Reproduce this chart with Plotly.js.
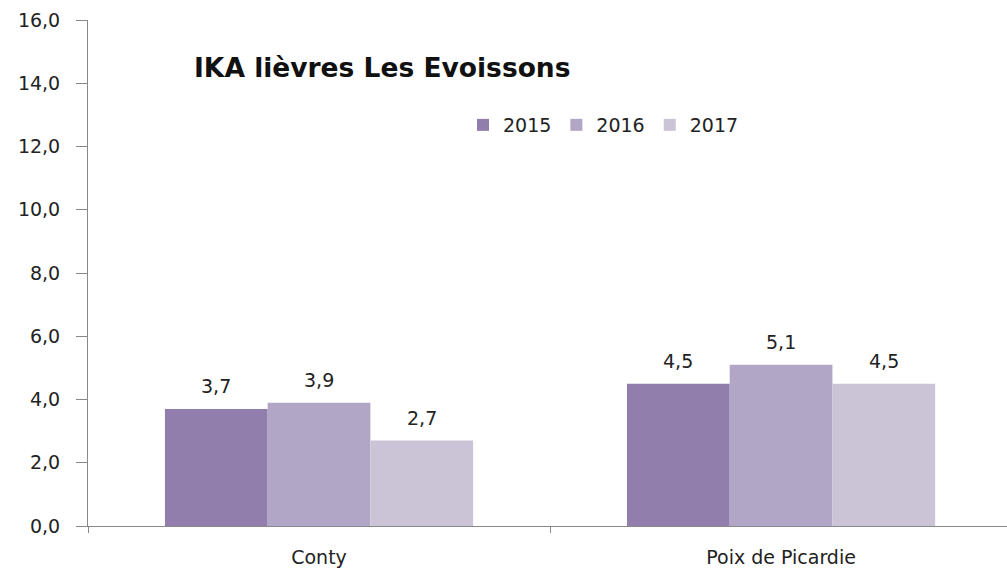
<!DOCTYPE html>
<html>
<head>
<meta charset="utf-8">
<script src="https://cdn.plot.ly/plotly-3.0.1.min.js"></script>
<style>html,body{margin:0;padding:0;background:#fff;}#chart{width:1007px;height:569px;}</style>
</head>
<body>
<div id="chart"></div>
<script>
const categories = ["Conty", "Poix de Picardie"];
const seriesNames = ["2015", "2016", "2017"];
const values2015 = [3.7, 4.5];
const values2016 = [3.9, 5.1];
const values2017 = [2.7, 4.5];
const colors = ["#917EAC", "#B1A6C5", "#CBC4D7"];
const allValues = [values2015, values2016, values2017];

const font = "DejaVu Sans, Verdana, sans-serif";
const bargap = 0.333;
const barW = (1 - bargap) / allValues.length;

const traces = allValues.map((v, i) => ({
  type: "bar",
  name: seriesNames[i],
  x: categories,
  y: v,
  marker: {color: colors[i]},
  hoverinfo: "skip"
}));

// value labels above bars, positioned from the data through the axes
const annotations = [];
allValues.forEach((v, i) => {
  v.forEach((val, j) => {
    annotations.push({
      x: j + (i - (allValues.length - 1) / 2) * barW,
      y: val,
      xref: "x", yref: "y",
      text: val.toFixed(1).replace(".", ","),
      showarrow: false,
      xanchor: "center", yanchor: "bottom",
      yshift: 10,
      font: {family: font, size: 19, color: "#222"}
    });
  });
});

const layout = {
  width: 1007, height: 569,
  margin: {l: 88, r: 0, t: 20, b: 43},
  paper_bgcolor: "#fff", plot_bgcolor: "#fff",
  separators: ", ",
  barmode: "group",
  bargap: bargap,
  bargroupgap: 0,
  font: {family: font, size: 19, color: "#222"},
  title: {
    text: "<b>IKA lièvres Les Evoissons</b>",
    font: {family: font, size: 26.5, color: "#111"},
    xref: "container", x: 194/1007, xanchor: "left",
    yref: "container", y: 1 - 68/569, yanchor: "middle"
  },
  showlegend: true,
  legend: {
    orientation: "h",
    x: (463-88)/919, xanchor: "left",
    y: (526-125)/506, yanchor: "middle",
    font: {family: font, size: 19, color: "#222"},
    itemwidth: 30,
    tracegroupgap: 0
  },
  annotations: annotations,
  xaxis: {
    type: "category",
    range: [-0.5, 1.489],
    showgrid: false,
    showline: true, linecolor: "#888", linewidth: 1,
    ticks: "outside", tickson: "boundaries", ticklen: 6, tickcolor: "#888",
    ticklabelstandoff: 14,
    tickfont: {family: font, size: 19, color: "#222"},
    zeroline: false, fixedrange: true
  },
  yaxis: {
    range: [0, 16],
    dtick: 2, tick0: 0,
    tickformat: ".1f",
    showgrid: false,
    showline: true, linecolor: "#888", linewidth: 1,
    ticks: "outside", ticklen: 11, tickcolor: "#888",
    ticklabelstandoff: 12,
    tickfont: {family: font, size: 19, color: "#222"},
    zeroline: false, fixedrange: true
  }
};

Plotly.newPlot("chart", traces, layout, {displayModeBar: false, staticPlot: true});
</script>
</body>
</html>
